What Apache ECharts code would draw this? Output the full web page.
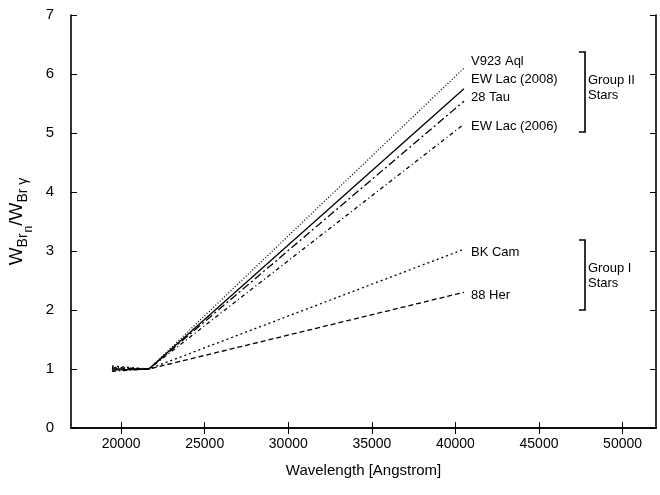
<!DOCTYPE html>
<html>
<head>
<meta charset="utf-8">
<script src="https://cdn.jsdelivr.net/npm/echarts@6/dist/echarts.min.js"></script>
<style>html,body{margin:0;padding:0;background:#fff}#c{width:660px;height:495px}</style>
</head>
<body>
<div id="c"></div>
<script>
const wavelengths = [19450, 21661, 40512];
const v923Aql = [1.03, 1.0, 6.10];
const ewLac2008 = [0.98, 1.0, 5.75];
const tau28 = [1.0, 1.0, 5.54];
const ewLac2006 = [0.96, 1.0, 5.15];
const bkCam = [1.05, 1.0, 3.03];
const her88 = [1.02, 1.0, 2.30];
const xTicks = [20000, 25000, 30000, 35000, 40000, 45000, 50000];

const FONT = 'Liberation Sans';
function mk(name, vals, type, off) {
  return {
    name: name, type: 'line', symbol: 'none', animation: false,
    data: wavelengths.map((w, i) => [w, vals[i]]),
    lineStyle: { color: '#000', width: 1.3, type: type },
    endLabel: { show: true, formatter: '{a}', distance: 7, offset: off,
      color: '#000', fontFamily: FONT, fontSize: 13 }
  };
}
const chart = echarts.init(document.getElementById('c'), null, { renderer: 'canvas' });
const axisLine = { show: true, lineStyle: { color: '#000', width: 1.6 } };
chart.setOption({
  backgroundColor: '#fff',
  animation: false,
  grid: { left: 71, right: 4, top: 15, bottom: 67, containLabel: false, outerBoundsMode: 'none' },
  xAxis: [{
    type: 'value', min: 17000, max: 52000,
    axisLine: axisLine,
    axisTick: { show: true, inside: true, length: 6, customValues: xTicks, lineStyle: { color: '#000' } },
    axisLabel: { customValues: xTicks, formatter: v => String(v), color: '#000', fontFamily: FONT, fontSize: 14, margin: 9 },
    splitLine: { show: false },
    name: 'Wavelength [Angstrom]', nameLocation: 'middle', nameGap: 35,
    nameTextStyle: { color: '#000', fontFamily: FONT, fontSize: 15 }
  }, {
    type: 'value', min: 17000, max: 52000, position: 'top',
    axisLine: axisLine,
    axisTick: { show: true, inside: true, length: 6, customValues: xTicks, lineStyle: { color: '#000' } },
    axisLabel: { show: false }, splitLine: { show: false }
  }],
  yAxis: [{
    type: 'value', min: 0, max: 7, interval: 1,
    axisLine: axisLine,
    axisTick: { show: true, inside: true, length: 6, lineStyle: { color: '#000' } },
    axisLabel: { color: '#000', fontFamily: FONT, fontSize: 15, margin: 17 },
    splitLine: { show: false },
    name: '{a|W}{s|Br}{ss|n}{a|/W}{s|Br γ}', nameLocation: 'middle', nameGap: 25, nameRotate: 90,
    nameTextStyle: { color: '#000', fontFamily: FONT, fontSize: 19,
      rich: {
        a: { fontFamily: FONT, fontSize: 19, color: '#000', verticalAlign: 'top', lineHeight: 20, padding: [0, 0, 0, 0] },
        s: { fontFamily: FONT, fontSize: 14, color: '#000', verticalAlign: 'top', lineHeight: 15, padding: [8, 0, 0, 0] },
        ss: { fontFamily: FONT, fontSize: 12, color: '#000', verticalAlign: 'top', lineHeight: 13, padding: [15, 0, 0, 1] }
      } }
  }, {
    type: 'value', min: 0, max: 7, interval: 1, position: 'right',
    axisLine: axisLine,
    axisTick: { show: true, inside: true, length: 6, lineStyle: { color: '#000' } },
    axisLabel: { show: false }, splitLine: { show: false }
  }],
  series: [
    mk('V923 Aql', v923Aql, [1, 2], [0, -7]),
    mk('EW Lac (2008)', ewLac2008, 'solid', [0, -9]),
    mk('28 Tau', tau28, [8, 3, 2, 3], [0, -4]),
    mk('EW Lac (2006)', ewLac2006, [4, 3, 1, 3], [0, 2]),
    mk('BK Cam', bkCam, [2, 3], [0, 3]),
    mk('88 Her', her88, [5, 3], [0, 3])
  ],
  graphic: [
    { type: 'polyline', shape: { points: [[579, 52], [585, 52], [585, 132], [579, 132]] }, style: { stroke: '#000', lineWidth: 1.6, fill: null } },
    { type: 'polyline', shape: { points: [[579, 240], [585, 240], [585, 310], [579, 310]] }, style: { stroke: '#000', lineWidth: 1.6, fill: null } },
    { type: 'text', x: 588, y: 88, style: { text: 'Group II\nStars', fill: '#000', font: '13px "Liberation Sans"', lineHeight: 15, verticalAlign: 'middle' } },
    { type: 'text', x: 588, y: 276, style: { text: 'Group I\nStars', fill: '#000', font: '13px "Liberation Sans"', lineHeight: 15, verticalAlign: 'middle' } }
  ]
});
</script>
</body>
</html>
